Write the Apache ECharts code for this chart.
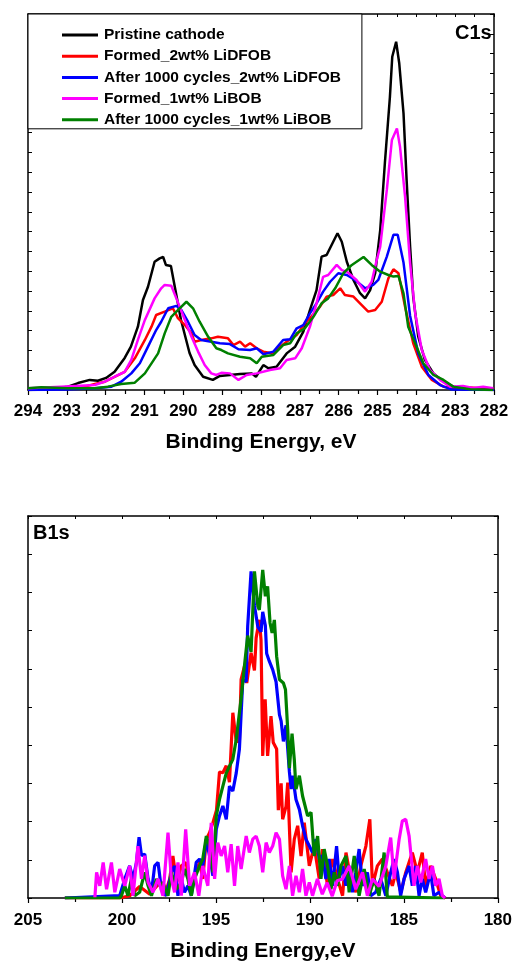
<!DOCTYPE html>
<html>
<head>
<meta charset="utf-8">
<script src="https://cdn.jsdelivr.net/npm/echarts@6/dist/echarts.min.js"></script>
<style>html,body{margin:0;padding:0;background:#fff;}#chart{width:515px;height:963px;}</style>
</head>
<body>
<div id="chart"></div>
<script>
const seriesNames = ['Pristine cathode','Formed_2wt% LiDFOB','After 1000 cycles_2wt% LiDFOB','Formed_1wt% LiBOB','After 1000 cycles_1wt% LiBOB'];
const seriesColors = ['#000000','#ff0000','#0000ff','#ff00ff','#008000'];
const c1sXRange = [282, 294];
const b1sXRange = [180, 205];

// C1s spectra: [binding energy (eV), intensity (a.u.)]
const c1sPristine = [[294.0,0],[293.5,0.03],[292.97,0.17],[292.71,0.35],[292.41,0.51],[292.2,0.47],[291.99,0.61],[291.77,0.92],[291.51,1.62],[291.35,2.19],[291.17,3.2],[291.04,4.55],[290.91,5.22],[290.74,6.48],[290.61,6.65],[290.52,6.72],[290.45,6.32],[290.32,6.27],[290.22,5.22],[290.06,3.54],[289.84,1.87],[289.71,1.26],[289.49,0.67],[289.24,0.51],[289.06,0.71],[288.8,0.76],[288.54,0.81],[288.24,0.84],[288.13,0.67],[287.94,1.26],[287.81,1.1],[287.6,1.18],[287.34,1.85],[287.12,2.19],[286.91,2.95],[286.74,4.04],[286.57,5.05],[286.44,6.74],[286.31,6.82],[286.14,7.49],[286.03,7.92],[285.92,7.49],[285.79,6.48],[285.62,5.56],[285.45,4.89],[285.32,4.63],[285.19,5.05],[285.06,5.9],[284.93,8.08],[284.81,11.47],[284.68,14.82],[284.62,16.84],[284.52,17.6],[284.44,16.51],[284.33,13.98],[284.25,10.61],[284.16,7.24],[284.08,4.71],[283.95,2.69],[283.78,1.52],[283.56,0.84],[283.3,0.42],[283.05,0.17],[282.79,0.04],[282.0,0]];
const c1sFormedDFOB = [[294.0,0],[293.5,0.05],[292.88,0.17],[292.54,0.17],[292.28,0.3],[292.02,0.42],[291.85,0.59],[291.51,0.92],[291.25,1.6],[290.99,2.53],[290.82,3.2],[290.7,3.79],[290.48,3.96],[290.27,4.13],[290.14,3.63],[289.96,3.28],[289.79,2.86],[289.71,2.44],[289.54,2.53],[289.28,2.61],[289.11,2.69],[288.85,2.61],[288.71,2.27],[288.54,2.44],[288.41,2.19],[288.28,2.36],[288.11,2.11],[287.94,1.94],[287.68,1.85],[287.51,2.19],[287.34,2.44],[287.08,2.78],[286.87,3.37],[286.74,3.63],[286.48,4.21],[286.31,4.72],[286.14,4.8],[285.96,5.14],[285.84,4.8],[285.62,4.72],[285.45,4.38],[285.24,3.96],[285.06,4.04],[284.89,4.46],[284.72,5.64],[284.59,6.1],[284.46,5.9],[284.29,4.21],[284.08,2.36],[283.86,1.18],[283.6,0.51],[283.3,0.17],[282.96,0.09],[282.62,0.13],[282.0,0.04]];
const c1sCycledDFOB = [[294.0,0],[293.0,0.03],[292.28,0.09],[291.85,0.17],[291.6,0.42],[291.34,0.84],[291.12,1.35],[290.91,2.19],[290.7,3.03],[290.57,3.45],[290.39,4.13],[290.18,4.25],[290.05,4.04],[289.88,3.45],[289.71,2.78],[289.54,2.53],[289.28,2.44],[289.06,2.36],[288.8,2.32],[288.58,2.06],[288.28,2.02],[288.11,2.11],[287.94,1.81],[287.68,1.94],[287.43,2.53],[287.25,2.56],[287.08,3.12],[286.91,3.28],[286.74,3.87],[286.57,4.38],[286.4,4.97],[286.22,5.47],[286.01,5.9],[285.79,5.81],[285.58,5.56],[285.32,5.14],[285.11,5.31],[284.98,5.56],[284.76,6.74],[284.59,7.84],[284.48,7.84],[284.33,6.44],[284.16,3.74],[283.95,1.85],[283.69,0.76],[283.39,0.25],[283.09,0.02],[282.0,0]];
const c1sFormedBOB = [[294.0,0.09],[293.15,0.17],[292.28,0.25],[292.02,0.42],[291.77,0.67],[291.51,0.92],[291.34,1.52],[291.17,2.53],[290.99,3.54],[290.74,4.63],[290.57,5.14],[290.48,5.31],[290.31,5.27],[290.18,4.63],[289.96,3.54],[289.79,2.69],[289.62,1.94],[289.45,1.26],[289.28,0.84],[289.15,0.76],[289.02,0.87],[288.8,0.84],[288.58,0.51],[288.37,0.76],[288.11,0.84],[287.77,1.01],[287.51,1.1],[287.34,1.52],[287.12,1.6],[286.95,2.11],[286.74,3.2],[286.57,4.38],[286.4,5.72],[286.27,5.81],[286.05,6.32],[285.92,6.06],[285.79,5.98],[285.54,5.56],[285.32,4.97],[285.15,5.47],[285.02,6.57],[284.93,7.24],[284.76,10.11],[284.63,12.63],[284.5,13.22],[284.42,12.29],[284.29,9.77],[284.16,6.4],[284.03,3.88],[283.86,2.02],[283.65,1.01],[283.39,0.51],[283.13,0.17],[282.8,0.2],[282.54,0.1],[282.28,0.17],[282.02,0.09]];
const c1sCycledBOB = [[294.0,0.09],[293.66,0.14],[292.97,0.09],[292.28,0.09],[291.94,0.17],[291.6,0.3],[291.25,0.37],[290.99,0.84],[290.65,1.85],[290.48,2.86],[290.31,3.7],[290.14,4.04],[289.92,4.46],[289.75,4.13],[289.58,3.45],[289.36,2.69],[289.15,2.11],[289.02,2.02],[288.85,1.85],[288.8,1.77],[288.54,1.68],[288.28,1.6],[288.11,1.35],[287.98,1.68],[287.68,1.77],[287.43,2.27],[287.25,2.36],[287.08,2.86],[286.87,3.12],[286.65,3.7],[286.44,4.38],[286.27,4.63],[286.09,5.14],[285.88,5.9],[285.66,6.32],[285.36,6.72],[285.15,6.32],[284.93,5.98],[284.72,5.81],[284.59,5.73],[284.46,5.76],[284.33,4.88],[284.21,3.2],[284.03,2.36],[283.82,1.35],[283.56,0.76],[283.3,0.51],[283.05,0.17],[282.62,0.04],[282.02,0]];

// B1s spectra: [binding energy (eV), intensity (a.u.)]
const b1sFormedDFOB = [[203.04,0],[200.12,0],[199.59,0.06],[199.06,0.3],[198.52,0.1],[197.99,0.4],[197.73,0.06],[197.46,0.5],[197.29,1.1],[197.09,0.4],[196.84,0.84],[196.58,0.93],[196.4,0.3],[196.14,0.6],[195.87,0.93],[195.7,0.5],[195.51,1.54],[195.34,1.71],[195.16,1.97],[194.97,2.3],[194.81,3.3],[194.63,3.28],[194.45,3.46],[194.28,3.03],[194.1,4.85],[193.92,4.1],[193.75,4.1],[193.66,5.72],[193.48,6.07],[193.36,5.63],[193.13,6.42],[192.95,5.96],[192.86,6.81],[192.69,7.28],[192.6,6.76],[192.51,3.72],[192.38,5.2],[192.25,3.72],[192.07,4.76],[191.95,4.07],[191.77,3.9],[191.68,2.3],[191.53,3.0],[191.45,2.06],[191.27,2.4],[191.18,3.02],[191.0,0.67],[190.83,1.54],[190.65,1.89],[190.47,1.1],[190.3,1.97],[190.03,0.84],[189.77,1.36],[189.5,0.5],[189.33,1.28],[189.06,0.32],[188.79,1.02],[188.53,0.5],[188.26,0.06],[188.08,1.19],[187.82,0.5],[187.55,0.15],[187.29,0.84],[187.02,1.36],[186.81,2.06],[186.67,0.32],[186.41,0.84],[186.14,1.02],[185.88,0.67],[185.61,0.32],[185.43,0.67],[185.16,0.15],[184.9,0.67],[184.55,1.19],[184.28,0.67],[184.02,1.19],[183.84,0.32],[183.57,0.84],[183.31,0.5],[183.04,0.06],[182.78,0]];
const b1sCycledDFOB = [[203.04,0],[200.12,0.06],[199.85,0.5],[199.59,0.84],[199.41,0.5],[199.23,0.93],[199.09,1.59],[198.96,1.11],[198.79,1.15],[198.61,0.5],[198.43,0.15],[198.26,0.84],[198.08,0.93],[197.9,0.23],[197.64,0.06],[197.37,0.67],[197.2,0.84],[197.02,0.06],[196.84,0.5],[196.67,0.15],[196.49,0.32],[196.31,0.06],[196.05,0.93],[195.87,1.02],[195.7,0.84],[195.51,1.54],[195.34,1.1],[195.16,0.58],[194.98,1.8],[194.81,2.15],[194.63,2.41],[194.45,2.06],[194.28,2.93],[194.1,2.8],[193.92,3.27],[193.75,3.9],[193.57,5.72],[193.39,5.66],[193.31,7.11],[193.13,8.55],[192.95,7.66],[192.77,7.1],[192.6,6.97],[192.51,7.49],[192.37,7.13],[192.3,6.4],[192.16,6.2],[191.98,5.98],[191.8,5.66],[191.62,4.8],[191.53,4.63],[191.41,4.1],[191.27,4.52],[191.09,3.3],[191.0,2.85],[190.92,3.2],[190.74,2.58],[190.56,2.32],[190.39,1.89],[190.21,1.54],[190.03,1.36],[189.86,1.19],[189.68,1.54],[189.5,1.02],[189.33,1.11],[189.15,0.5],[188.97,1.02],[188.79,0.32],[188.58,1.36],[188.44,0.5],[188.26,0.84],[188.08,0.32],[187.91,0.84],[187.73,0.15],[187.56,0.67],[187.38,1.28],[187.2,0.32],[186.94,0.67],[186.76,0.06],[186.5,0.15],[186.23,0.5],[185.96,0.06],[185.7,0.67],[185.52,1.02],[185.34,0.67],[185.17,0.06],[184.99,0.5],[184.72,0.84],[184.55,0.32],[184.37,0.84],[184.19,0.06],[184.02,0.5],[183.84,0.15],[183.58,0.67],[183.4,0.06],[183.13,0.15],[182.95,0.06],[182.81,0]];
const b1sFormedBOB = [[201.44,0.02],[201.35,0.67],[201.18,0.32],[201.0,0.93],[200.82,0.23],[200.56,0.93],[200.38,0.15],[200.12,0.76],[199.85,0.32],[199.59,0.84],[199.41,0.06],[199.15,1.36],[198.96,0.5],[198.79,1.11],[198.61,0.41],[198.35,0.15],[198.08,0.5],[197.82,0.06],[197.55,1.71],[197.37,0.5],[197.2,0.15],[197.02,0.93],[196.84,0.06],[196.61,1.8],[196.4,0.32],[196.14,0.67],[195.91,0.06],[195.7,0.84],[195.43,0.32],[195.25,1.97],[195.07,0.5],[194.9,1.45],[194.72,1.1],[194.54,1.36],[194.37,0.67],[194.19,1.41],[194.01,0.32],[193.84,1.36],[193.66,0.76],[193.39,1.62],[193.22,1.19],[193.04,1.54],[192.86,1.62],[192.69,1.36],[192.51,0.67],[192.33,1.45],[192.16,1.19],[191.98,1.36],[191.8,1.71],[191.62,1.54],[191.45,0.58],[191.27,0.23],[191.09,0.84],[190.92,0.06],[190.74,0.58],[190.56,0.15],[190.39,0.76],[190.21,0.06],[190.03,0.41],[189.86,0.06],[189.6,0.5],[189.34,0.1],[189.08,0.4],[188.81,0.05],[188.55,0.45],[188.26,0.5],[187.91,0.84],[187.56,0.23],[187.2,0.67],[186.94,0.06],[186.67,0.5],[186.32,0.3],[185.96,0.84],[185.7,1.58],[185.52,0.5],[185.25,1.54],[185.08,2.02],[184.9,2.06],[184.72,1.62],[184.46,0.32],[184.28,0.84],[184.1,0.41],[183.84,1.02],[183.66,0.5],[183.48,0.84],[183.31,0.32],[183.13,0.5],[182.95,0.06],[182.81,0]];
const b1sCycledBOB = [[203.04,0],[200.12,0],[200.03,0.06],[199.85,0.32],[199.68,0.06],[199.5,0.5],[199.32,0.06],[199.06,0.15],[198.79,0.67],[198.61,0.32],[198.43,0.06],[198.17,0.5],[197.99,0.32],[197.82,0.41],[197.55,0.06],[197.37,0.67],[197.11,0.23],[196.84,0.41],[196.67,0.76],[196.49,0.5],[196.31,0.06],[196.14,0.5],[195.87,0.84],[195.7,1.02],[195.51,1.62],[195.34,1.36],[195.16,0.67],[194.98,2.15],[194.81,2.58],[194.63,2.93],[194.45,3.27],[194.28,3.45],[194.1,3.63],[193.92,4.15],[193.66,5.22],[193.48,6.09],[193.31,6.87],[193.13,6.44],[192.95,8.55],[192.77,7.64],[192.69,7.54],[192.51,8.59],[192.37,7.9],[192.25,8.16],[192.12,7.2],[192.01,6.94],[191.89,7.28],[191.77,6.33],[191.62,5.72],[191.41,5.63],[191.3,5.46],[191.18,4.41],[191.09,3.4],[190.95,4.3],[190.83,3.63],[190.74,2.85],[190.56,3.2],[190.39,2.67],[190.12,2.15],[189.94,2.24],[189.77,1.1],[189.59,1.62],[189.41,0.5],[189.24,1.28],[189.06,0.84],[188.88,0.23],[188.7,0.67],[188.53,0.32],[188.35,0.84],[188.08,1.1],[187.91,0.15],[187.64,1.1],[187.38,0.06],[187.11,0.76],[186.85,0.06],[186.58,0.5],[186.32,0.06],[186.05,1.19],[185.88,0.03],[182.81,0]];

const FONT = '"Liberation Sans", Arial, sans-serif';

function bottomX(grid, range, interval, name, gap, margin) {
  return {
    type: 'value', gridIndex: grid, position: 'bottom', inverse: true,
    min: range[0], max: range[1], interval: interval,
    name: name, nameLocation: 'middle', nameGap: gap,
    nameTextStyle: {fontFamily: FONT, fontWeight: 'bold', fontSize: 21, color: '#000'},
    axisLine: {show: true, lineStyle: {color: '#000', width: 1.5}},
    axisTick: {show: true, inside: false, length: 5, lineStyle: {color: '#000', width: 1.2}},
    minorTick: {show: true, splitNumber: 2, length: 4, lineStyle: {color: '#000', width: 1.2}},
    axisLabel: {show: true, margin: margin, fontFamily: FONT, fontWeight: 'bold', fontSize: 17, color: '#000'},
    splitLine: {show: false}, minorSplitLine: {show: false}
  };
}
function topX(grid, range, interval) {
  return {
    type: 'value', gridIndex: grid, position: 'top', inverse: true,
    min: range[0], max: range[1], interval: interval,
    axisLine: {show: true, onZero: false, lineStyle: {color: '#000', width: 1.5}},
    axisTick: {show: true, inside: true, length: 3, lineStyle: {color: '#000', width: 1}},
    minorTick: {show: true, splitNumber: 2, length: 3, lineStyle: {color: '#000', width: 1}},
    axisLabel: {show: false}, splitLine: {show: false}
  };
}
function yAx(grid, pos, max) {
  return {
    type: 'value', gridIndex: grid, position: pos, min: 0, max: max, interval: 1,
    axisLine: {show: true, onZero: false, lineStyle: {color: '#000', width: 1.5}},
    axisTick: {show: true, inside: true, length: 4, lineStyle: {color: '#000', width: 1}},
    axisLabel: {show: false}, splitLine: {show: false}
  };
}
function line(name, color, data, xi, yi, w) {
  return {
    type: 'line', name: name, data: data, xAxisIndex: xi, yAxisIndex: yi,
    showSymbol: false, symbol: 'none', smooth: false,
    lineStyle: {color: color, width: w}, itemStyle: {color: color},
    emphasis: {disabled: true}, animation: false, z: 2
  };
}

const chart = echarts.init(document.getElementById('chart'), null, {renderer: 'canvas'});
chart.setOption({
  animation: false,
  backgroundColor: '#fff',
  title: [
    {text: 'C1s', left: 455, top: 23, padding: 0, textStyle: {fontFamily: FONT, fontWeight: 'bold', fontSize: 20, color: '#000'}},
    {text: 'B1s', left: 33, top: 523, padding: 0, textStyle: {fontFamily: FONT, fontWeight: 'bold', fontSize: 20, color: '#000'}}
  ],
  legend: {
    data: seriesNames, orient: 'vertical', left: 28, top: 14,
    padding: [13, 21, 1, 34], itemGap: 5.2, itemWidth: 36, itemHeight: 3,
    icon: 'rect', borderColor: '#000', borderWidth: 1, backgroundColor: '#fff',
    selectedMode: false,
    textStyle: {fontFamily: FONT, fontWeight: 'bold', fontSize: 15.5, lineHeight: 15, color: '#000', padding: [0, 0, 0, 1]}
  },
  grid: [
    {left: 28, top: 14, width: 466, height: 376, containLabel: false},
    {left: 28, top: 516, width: 471, height: 383, containLabel: false}
  ],
  xAxis: [
    bottomX(0, c1sXRange, 1, 'Binding Energy, eV', 42, 13),
    topX(0, c1sXRange, 1),
    bottomX(1, b1sXRange, 5, 'Binding Energy,eV', 43, 14),
    topX(1, b1sXRange, 5)
  ],
  yAxis: [
    yAx(0, 'left', 19), yAx(0, 'right', 19),
    yAx(1, 'left', 10), yAx(1, 'right', 10)
  ],
  series: [
    line(seriesNames[0], seriesColors[0], c1sPristine, 0, 0, 2.5),
    line(seriesNames[1], seriesColors[1], c1sFormedDFOB, 0, 0, 2.5),
    line(seriesNames[2], seriesColors[2], c1sCycledDFOB, 0, 0, 2.5),
    line(seriesNames[3], seriesColors[3], c1sFormedBOB, 0, 0, 2.5),
    line(seriesNames[4], seriesColors[4], c1sCycledBOB, 0, 0, 2.5),
    line(seriesNames[1], seriesColors[1], b1sFormedDFOB, 2, 2, 3.2),
    line(seriesNames[2], seriesColors[2], b1sCycledDFOB, 2, 2, 3.2),
    line(seriesNames[4], seriesColors[4], b1sCycledBOB, 2, 2, 3.2),
    line(seriesNames[3], seriesColors[3], b1sFormedBOB, 2, 2, 3.2)
  ]
});
</script>
</body>
</html>
